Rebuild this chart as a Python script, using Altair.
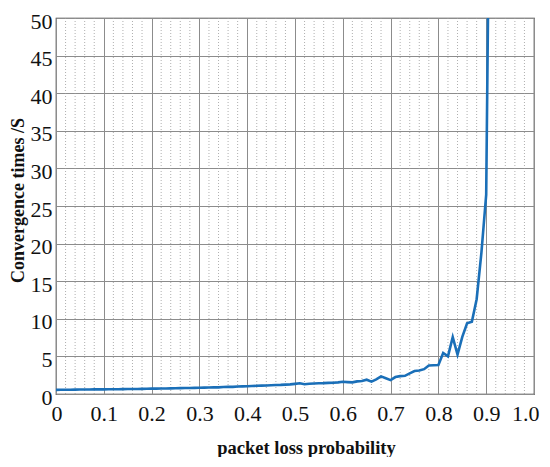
import altair as alt
import pandas as pd

# packet loss probability (x) and convergence time (y)
loss_prob = [0.00, 0.01, 0.02, 0.03, 0.04, 0.05, 0.06, 0.07, 0.08, 0.09,
             0.10, 0.11, 0.12, 0.13, 0.14, 0.15, 0.16, 0.17, 0.18, 0.19,
             0.20, 0.21, 0.22, 0.23, 0.24, 0.25, 0.26, 0.27, 0.28, 0.29,
             0.30, 0.31, 0.32, 0.33, 0.34, 0.35, 0.36, 0.37, 0.38, 0.39,
             0.40, 0.41, 0.42, 0.43, 0.44, 0.45, 0.46, 0.47, 0.48, 0.49,
             0.50, 0.51, 0.52, 0.53, 0.54, 0.55, 0.56, 0.57, 0.58, 0.59,
             0.60, 0.61, 0.62, 0.63, 0.64, 0.65, 0.66, 0.67, 0.68, 0.69,
             0.70, 0.71, 0.72, 0.73, 0.74, 0.75, 0.76, 0.77, 0.78, 0.79,
             0.80, 0.81, 0.82, 0.83, 0.84, 0.85, 0.86, 0.87, 0.88, 0.89,
             0.90, 0.91]
conv_time = [0.55, 0.56, 0.57, 0.57, 0.58, 0.59, 0.60, 0.60, 0.61, 0.62,
             0.62, 0.63, 0.64, 0.64, 0.65, 0.66, 0.66, 0.67, 0.68, 0.70,
             0.71, 0.72, 0.73, 0.74, 0.75, 0.76, 0.78, 0.79, 0.80, 0.82,
             0.84, 0.85, 0.87, 0.90, 0.88, 0.93, 0.97, 0.95, 0.99, 1.02,
             1.04, 1.06, 1.09, 1.11, 1.13, 1.17, 1.19, 1.21, 1.25, 1.28,
             1.35, 1.42, 1.30, 1.36, 1.40, 1.42, 1.44, 1.48, 1.50, 1.55,
             1.62, 1.58, 1.55, 1.68, 1.72, 1.90, 1.65, 1.95, 2.35, 2.10,
             1.85, 2.25, 2.38, 2.42, 2.75, 3.05, 3.12, 3.30, 3.80, 3.82,
             3.85, 5.45, 5.00, 7.55, 5.25, 7.60, 9.40, 9.60, 12.6, 18.8,
             26.5, 90.0]

# tick values
x_major = [0.0, 0.1, 0.2, 0.3, 0.4, 0.5, 0.6, 0.7, 0.8, 0.9, 1.0]
x_minor = [0.02, 0.04, 0.06, 0.08, 0.12, 0.14, 0.16, 0.18, 0.22, 0.24, 0.26, 0.28,
           0.32, 0.34, 0.36, 0.38, 0.42, 0.44, 0.46, 0.48, 0.52, 0.54, 0.56, 0.58,
           0.62, 0.64, 0.66, 0.68, 0.72, 0.74, 0.76, 0.78, 0.82, 0.84, 0.86, 0.88,
           0.92, 0.94, 0.96, 0.98]
y_major = [0, 5, 10, 15, 20, 25, 30, 35, 40, 45, 50]

df = pd.DataFrame({"p": loss_prob, "t": conv_time})
minor_df = pd.DataFrame({"m": x_minor})

FONT = "Liberation Serif"

xscale = alt.Scale(domain=[0, 1], nice=False, zero=False)
yscale = alt.Scale(domain=[0, 50], nice=False)

minor = alt.Chart(minor_df).mark_rule(
    color="#9a9a9a", strokeWidth=0.8, strokeDash=[1, 2]
).encode(x=alt.X("m:Q", scale=xscale))

line = alt.Chart(df).mark_line(
    color="#1a6fb8", strokeWidth=2.6, clip=True
).encode(
    x=alt.X("p:Q", scale=xscale,
            axis=alt.Axis(values=x_major, title="packet loss probability",
                          labelExpr="datum.value == 0 ? '0' : format(datum.value, '.1f')",
                          labelFont=FONT, labelFontSize=22, labelColor="#111",
                          labelFlush=True, labelFlushOffset=5,
                          labelPadding=9, ticks=False,
                          domain=False, grid=True, gridColor="#8c8c8c",
                          gridWidth=1, gridOpacity=1,
                          titleFont=FONT, titleFontSize=18.5, titleFontWeight="bold",
                          titleColor="#111", titleX=250, titleY=53,
                          titleBaseline="middle")),
    y=alt.Y("t:Q", scale=yscale,
            axis=alt.Axis(values=y_major, title="Convergence times /S",
                          labelFont=FONT, labelFontSize=22, labelColor="#111",
                          labelFlush=False, labelPadding=4, labelOffset=3,
                          ticks=False, domain=False, grid=True,
                          gridColor="#8c8c8c", gridWidth=1, gridOpacity=1,
                          titleFont=FONT, titleFontSize=18, titleFontWeight="bold",
                          titleColor="#111", titleX=-38, titleY=182,
                          titleAngle=-90, titleAlign="center",
                          titleBaseline="middle")),
)

chart = alt.layer(minor, line).properties(
    width=478, height=376,
    autosize=alt.AutoSizeParams(type="none"),
    padding={"left": 48, "top": 10, "right": 8, "bottom": 63},
).configure_view(stroke="#333333", strokeWidth=1.2)

chart.save("out.html", embed_options={"renderer": "svg", "actions": False})
